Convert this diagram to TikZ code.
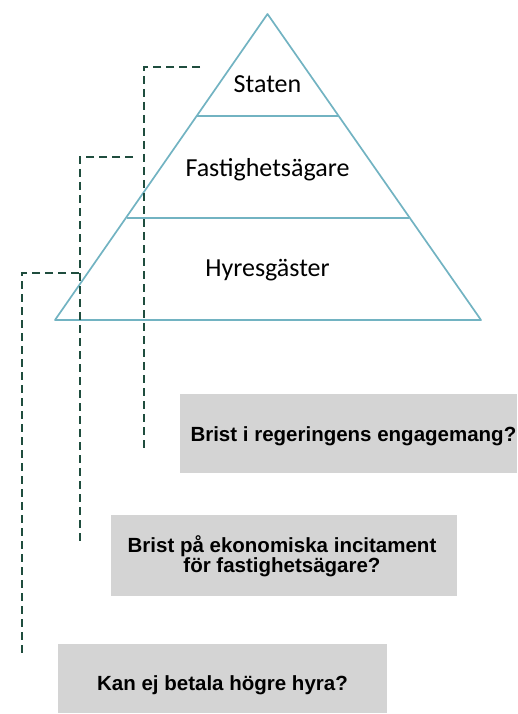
\documentclass[tikz,border=0pt]{standalone}
\usepackage{fontspec}
\newfontfamily\tierfont{Carlito}
\newfontfamily\boxfont{Liberation Sans}
\begin{document}
\begin{tikzpicture}[x=1pt,y=-1pt,
  tierline/.style={draw=tealline,line width=1.7pt,line join=round},
  tierlabel/.style={font=\tierfont\fontsize{26}{28}\selectfont,text=black,anchor=base,inner sep=0pt},
  greybox/.style={fill=boxgrey,draw=none},
  boxlabel/.style={font=\boxfont\bfseries\fontsize{20.5}{20.7}\selectfont,text=black,inner sep=0pt,align=center},
  guide/.style={draw=guidegreen,line width=1.6pt,dash pattern=on 8pt off 5pt}]
\definecolor{tealline}{HTML}{72B3C2}
\definecolor{guidegreen}{HTML}{1F4D3E}
\definecolor{boxgrey}{HTML}{D4D4D4}
\useasboundingbox (0,0) rectangle (517,714);

% pyramid with three tiers
\coordinate (apex) at (267.5,14);
\coordinate (bl) at (55,320);
\coordinate (br) at (481,320);
\draw[tierline] (apex) -- (br) -- (bl) -- cycle;
\draw[tierline] (197,116) -- (338,116);
\draw[tierline] (127,218) -- (409,218);
\node[tierlabel] (staten) at (267.5,92.5) {Staten};
\node[tierlabel] (agare) at (267.5,176) {Fastighetsägare};
\node[tierlabel] (hyres) at (267.5,276.5) {Hyresgäster};

% question boxes
\path[greybox] (180,394) rectangle (517,473);
\path[greybox] (111,515) rectangle (457,596);
\path[greybox] (58,644) rectangle (387,713);
\node[boxlabel,anchor=base east] (q1) at (516.5,441) {Brist i regeringens engagemang?};
\node[boxlabel,anchor=base] (q2a) at (282,552) {Brist på ekonomiska incitament};
\node[boxlabel,anchor=base] (q2b) at (282,572.5) {för fastighetsägare?};
\node[boxlabel,anchor=base] (q3) at (222.5,690) {Kan ej betala högre hyra?};

% dashed guides from each tier down to its question
\coordinate (g1s) at (200,67);
\coordinate (g1c) at (144,67);
\coordinate (g1e) at (144,450);
\coordinate (g2s) at (133,157);
\coordinate (g2c) at (80,157);
\coordinate (g2e) at (80,545);
\coordinate (g3s) at (79,273);
\coordinate (g3c) at (22,273);
\coordinate (g3e) at (22,654);
\draw[guide] (g1s) -- (g1c) -- (g1e);
\draw[guide] (g2s) -- (g2c) -- (g2e);
\draw[guide] (g3s) -- (g3c) -- (g3e);
\end{tikzpicture}
\end{document}
